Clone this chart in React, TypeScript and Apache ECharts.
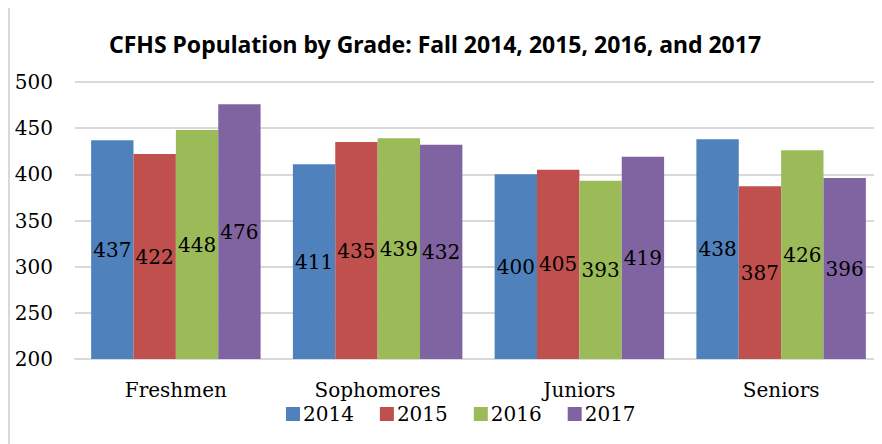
import React, { useEffect, useRef } from "react";
import * as echarts from "echarts";

const categories = ["Freshmen", "Sophomores", "Juniors", "Seniors"];
const years = ["2014", "2015", "2016", "2017"];
const values2014 = [437, 411, 400, 438];
const values2015 = [422, 435, 405, 387];
const values2016 = [448, 439, 393, 426];
const values2017 = [476, 432, 419, 396];
const colors = ["#4F81BD", "#C0504D", "#9BBB59", "#8064A2"];
const yTicks = { min: 200, max: 500, interval: 50 };

const SERIF = "'DejaVu Serif', serif";

export default function App() {
  const ref = useRef<HTMLDivElement>(null);
  useEffect(() => {
    if (!ref.current) return;
    const chart = echarts.init(ref.current, null, { renderer: "svg" });
    const all = [values2014, values2015, values2016, values2017];
    chart.setOption({
      animation: false,
      backgroundColor: "#ffffff",
      title: {
        text: "CFHS Population by Grade: Fall 2014, 2015, 2016, and 2017",
        left: 422,
        top: 19,
        textAlign: "center",
        textStyle: {
          fontFamily: "'Noto Sans', sans-serif",
          fontWeight: "bold",
          fontSize: 23,
          color: "#000",
        },
      },
      graphic: [
        {
          type: "rect",
          shape: { x: 1, y: -1, width: 900, height: 460 },
          style: { fill: "none", stroke: "#D9D9D9", lineWidth: 2 },
          silent: true,
        },
      ],
      legend: {
        data: years,
        left: 273,
        top: 391,
        itemWidth: 14,
        itemHeight: 14,
        itemGap: 26,
        icon: "rect",
        textStyle: { fontFamily: SERIF, fontSize: 20, color: "#000", padding: [0, 0, 0, -2] },
      },
      grid: { left: 67, top: 74, width: 816, height: 277 },
      xAxis: {
        type: "category",
        data: categories,
        axisLine: { show: true, lineStyle: { color: "#D9D9D9", width: 2 } },
        axisTick: { show: false },
        axisLabel: { fontFamily: SERIF, fontSize: 20, color: "#000", margin: 21 },
      },
      yAxis: {
        type: "value",
        min: yTicks.min,
        max: yTicks.max,
        interval: yTicks.interval,
        axisLine: { show: false },
        axisTick: { show: false },
        splitLine: { lineStyle: { color: "#D9D9D9", width: 2 } },
        axisLabel: { fontFamily: SERIF, fontSize: 20, color: "#000", margin: 22 },
      },
      series: years.map((y, i) => ({
        name: y,
        type: "bar",
        data: all[i],
        barGap: "0%",
        barCategoryGap: "16%",
        itemStyle: { color: colors[i] },
        label: {
          show: true,
          position: "inside",
          fontFamily: SERIF,
          fontSize: 20,
          color: "#000",
        },
      })),
    });
    return () => chart.dispose();
  }, []);
  return <div ref={ref} style={{ width: 874, height: 436 }} />;
}
